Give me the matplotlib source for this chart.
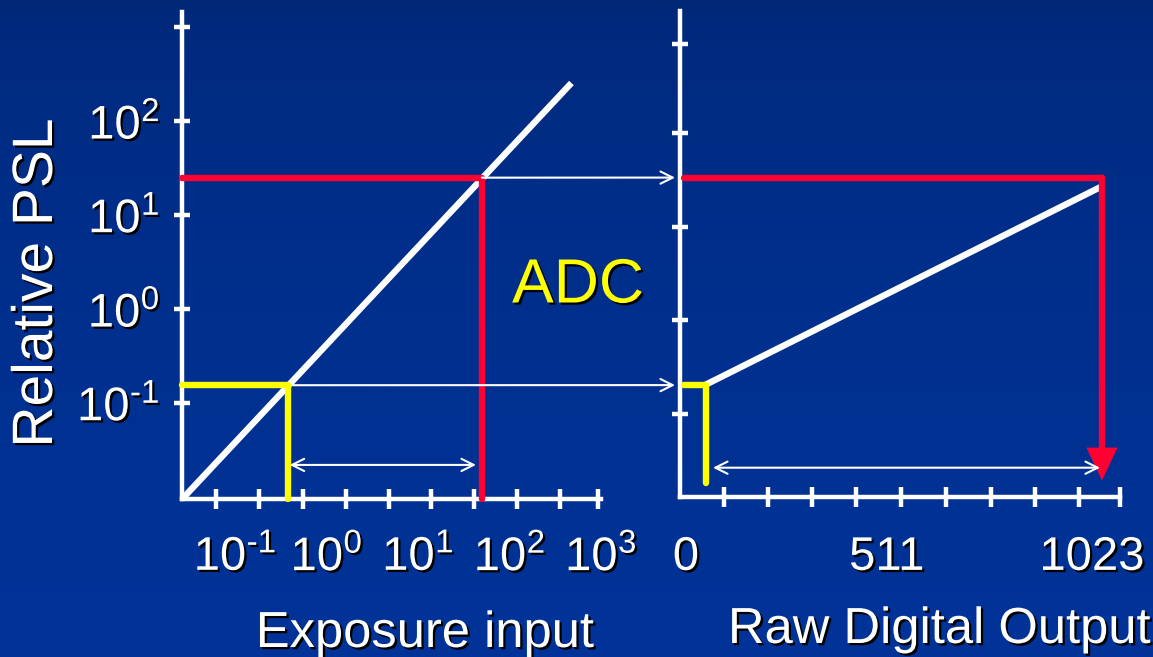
import numpy as np
import matplotlib
matplotlib.use('Agg')
import matplotlib.pyplot as plt
from matplotlib import patheffects
from matplotlib.ticker import NullFormatter, NullLocator
from matplotlib.transforms import ScaledTranslation

plt.rcParams['font.family'] = ['Liberation Sans', 'DejaVu Sans']
plt.rcParams['mathtext.fontset'] = 'custom'
plt.rcParams['mathtext.rm'] = 'Liberation Sans'
plt.rcParams['mathtext.it'] = 'Liberation Sans'
plt.rcParams['mathtext.default'] = 'rm'

# left panel: exposure input -> relative PSL (log-log)
diag_exposure = [0.0263, 475]
diag_psl = [0.0095, 254]
red_exposure = 49.8
red_psl = 25
yellow_exposure = 0.376
yellow_psl = 0.155
range_exposure = [0.395, 43]
range_psl_left = 0.022
bridge_start = 0.43

# right panel: relative PSL -> raw digital output
adc_output = [51, 1025]
adc_psl = [0.155, 20.4]
yellow_output = 54
yellow_end_psl = 0.014
red_output = 1023
red_end_psl = 0.015
range_output = [71, 1018]
range_psl_right = 0.0205

exp_ticks = [1e-1, 1, 10, 100, 1000]
exp_labels = [r'$10^{\text{-}1}$', '$10^{0}$', '$10^{1}$', '$10^{2}$', '$10^{3}$']
exp_minor = [-1.21, -0.74, -0.26, 0.21, 0.68, 1.14, 1.61, 2.08, 2.55, 2.97]
psl_ticks = [1e-1, 1, 10, 100, 1000]
psl_labels = [r'$10^{\text{-}1}$', '$10^{0}$', '$10^{1}$', '$10^{2}$', '']
psl_right = [2.82, 1.87, 0.87, -0.12, -1.12]
out_ticks = [0, 511, 1023]
out_labels = ['0', '511', '1023']
out_minor = [98, 206, 313, 421, 531, 641, 751, 859, 967, 1067]

RED = '#FF0033'
YEL = '#FFFF00'
W, H = 1153, 657
LW = 4.6
AX_LW = 3.2
shadow = [patheffects.withSimplePatchShadow(offset=(1.6, -1.6), shadow_rgbFace='black', alpha=1.0)]

fig = plt.figure(figsize=(W / 100, H / 100), dpi=100)

# blue gradient background
bg = fig.add_axes([0, 0, 1, 1], zorder=-5)
t = np.linspace(0, 1, 300) ** 0.6
top = np.array([0.0, 0.157, 0.47])
bot = np.array([0.0, 0.2, 0.6])
grad = top[None, :] * (1 - t[:, None]) + bot[None, :] * t[:, None]
bg.imshow(grad[:, None, :], aspect='auto', extent=[0, 1, 0, 1])
bg.axis('off')

ax1 = fig.add_axes([182 / W, (H - 499) / H, (601 - 182) / W, (499 - 12) / H])
ax2 = fig.add_axes([680 / W, (H - 497) / H, (1120 - 680) / W, (497 - 11) / H])

for ax in (ax1, ax2):
    ax.set_facecolor('none')
    ax.spines[['top', 'right']].set_visible(False)
    for s in ('left', 'bottom'):
        ax.spines[s].set_color('white')
        ax.spines[s].set_linewidth(AX_LW)

# ---- left panel
ax1.set_xscale('log')
ax1.set_yscale('log')
ax1.set_xlim(10 ** -1.58, 10 ** 2.98)
ax1.set_ylim(10 ** -2.02, 10 ** 3.16)
x0, x1 = ax1.get_xlim()
y0, y1 = ax1.get_ylim()

ax1.plot(diag_exposure, diag_psl, color='white', lw=LW, solid_capstyle='butt', zorder=3, clip_on=False)
ax1.plot([x0, red_exposure, red_exposure], [red_psl, red_psl, y0], color=RED, lw=LW,
         solid_capstyle='round', solid_joinstyle='round', zorder=4, clip_on=False)
ax1.plot([x0, yellow_exposure, yellow_exposure], [yellow_psl, yellow_psl, y0], color=YEL, lw=LW,
         solid_capstyle='round', solid_joinstyle='round', zorder=4, clip_on=False)
ax1.annotate('', xy=(range_exposure[1], range_psl_left), xytext=(range_exposure[0], range_psl_left),
             arrowprops=dict(arrowstyle='<->', color='white', lw=1.5, mutation_scale=22, shrinkA=0, shrinkB=0))

ax1.set_xticks(exp_ticks, exp_labels)
ax1.set_xticks([10 ** e for e in exp_minor], minor=True)
ax1.xaxis.set_minor_formatter(NullFormatter())
ax1.tick_params(axis='x', which='major', length=0, pad=26, labelsize=34, labelcolor='white')
ax1.tick_params(axis='x', which='minor', direction='inout', length=15, width=AX_LW, color='white')
ax1.set_yticks(psl_ticks, psl_labels)
ax1.yaxis.set_minor_locator(NullLocator())
ax1.tick_params(axis='y', which='major', direction='inout', length=12, width=AX_LW, color='white',
                labelcolor='white', labelsize=34, pad=10)

ax1.set_xlabel('Exposure input', fontsize=36.5, color='white', va='baseline')
ax1.xaxis.set_label_coords((425 - 182) / 419, (499 - 647) / 487)
ax1.set_ylabel('Relative PSL', fontsize=41, color='white')
ax1.yaxis.set_label_coords((37 - 182) / 419, (499 - 283) / 487)
ax1.yaxis.label.set_va('center')

# ---- right panel
ax2.set_yscale('log')
ax2.set_xlim(-9.8, 1067)
ax2.set_ylim(10 ** -2.0, 10 ** 3.17)

ax2.plot(adc_output, adc_psl, color='white', lw=LW, solid_capstyle='butt', zorder=3)
ax2.plot([0, red_output], [red_psl, red_psl], color=RED, lw=LW, solid_capstyle='round', zorder=4, clip_on=False)
ax2.annotate('', xy=(red_output, red_end_psl), xytext=(red_output, red_psl),
             arrowprops=dict(arrowstyle='-|>,head_length=0.8,head_width=0.38', color=RED, lw=LW,
                             mutation_scale=20, shrinkA=0, shrinkB=0, joinstyle='miter'))
ax2.plot([0, yellow_output, yellow_output], [yellow_psl, yellow_psl, yellow_end_psl], color=YEL, lw=LW,
         solid_capstyle='round', solid_joinstyle='round', zorder=4, clip_on=False)
ax2.annotate('', xy=(range_output[1], range_psl_right), xytext=(range_output[0], range_psl_right),
             arrowprops=dict(arrowstyle='<->', color='white', lw=1.5, mutation_scale=22, shrinkA=0, shrinkB=0))

# bridges from the left curve to the PSL axis of the ADC panel
for xs, ps in ((red_exposure, red_psl), (bridge_start, yellow_psl)):
    ax2.annotate('', xy=(-22, ps), xytext=(xs, ps), textcoords=ax1.transData, annotation_clip=False,
                 arrowprops=dict(arrowstyle='->', color='white', lw=1.5, mutation_scale=22, shrinkA=0, shrinkB=0))

ax2.set_xticks(out_ticks, out_labels)
ax2.set_xticks(out_minor, minor=True)
ax2.tick_params(axis='x', which='major', length=0, pad=28, labelsize=34, labelcolor='white')
ax2.tick_params(axis='x', which='minor', direction='inout', length=15, width=AX_LW, color='white')
ax2.set_yticks([10 ** e for e in psl_right], [''] * len(psl_right))
ax2.yaxis.set_minor_locator(NullLocator())
ax2.tick_params(axis='y', which='major', direction='inout', length=12, width=AX_LW, color='white')

# nudge the output labels a little, as on the slide
for lab, dx in zip(ax2.get_xticklabels(), [2, -6, -10]):
    lab.set_transform(lab.get_transform() + ScaledTranslation(dx / 100, 0, fig.dpi_scale_trans))

ax2.set_xlabel('Raw Digital Output', fontsize=36.5, color='white', va='baseline')
ax2.xaxis.set_label_coords((939 - 680) / 440, (497 - 643) / 486)

fig.text(578 / W, 1 - 286 / H, 'ADC', fontsize=45, color=YEL, ha='center', va='center', path_effects=shadow)

for lab in ax1.get_xticklabels() + ax1.get_yticklabels() + ax2.get_xticklabels():
    lab.set_path_effects(shadow)
for lab in (ax1.xaxis.label, ax1.yaxis.label, ax2.xaxis.label):
    lab.set_path_effects(shadow)

fig.savefig('out.png', dpi=100)
